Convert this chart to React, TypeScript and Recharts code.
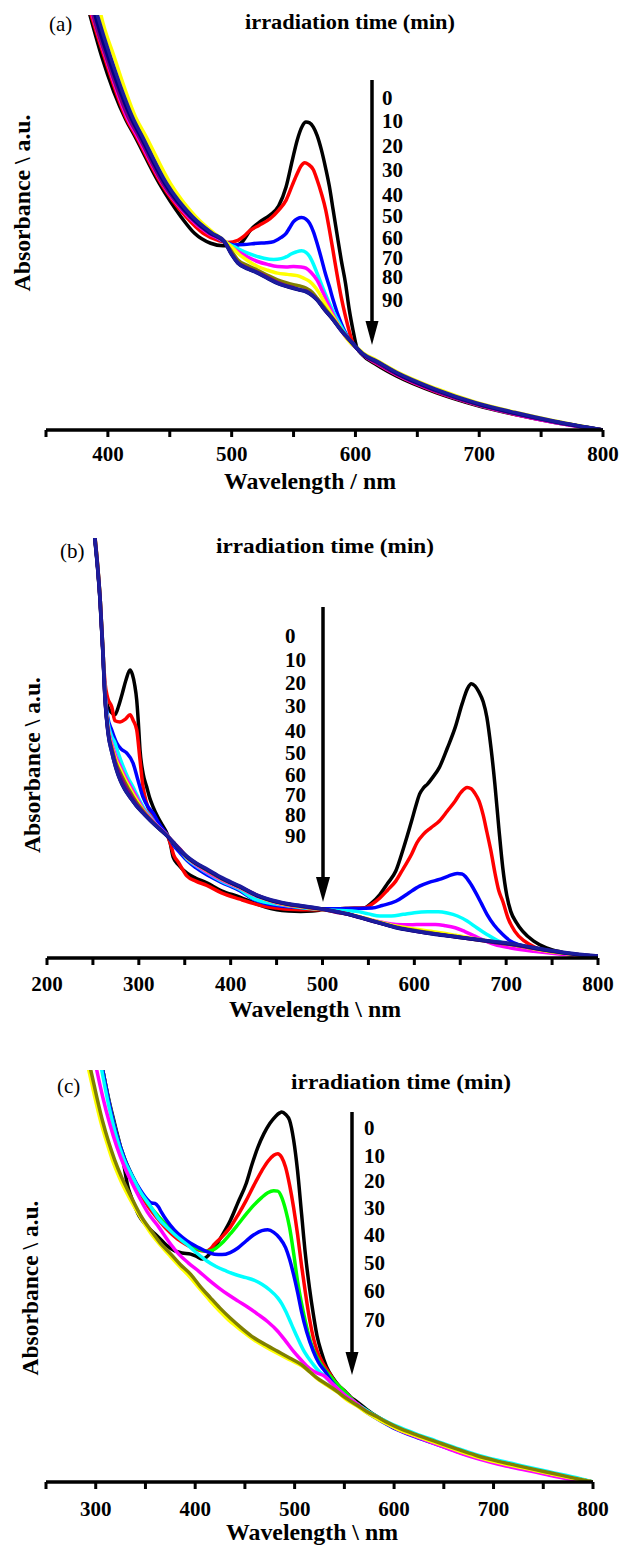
import React from 'react';
import { LineChart, Line, XAxis, YAxis } from 'recharts';

type Pt = [number, number];

const FONT = "'Liberation Serif', 'Times New Roman', serif";

// ---------- panel (a) ----------
const aTicks = [350, 400, 450, 500, 550, 600, 650, 700, 750, 800];
const aTimes = ['0', '10', '20', '30', '40', '50', '60', '70', '80', '90'];
const aColors = ['#000000', '#ff0000', '#0000ff', '#00ffff', '#ff00ff', '#ffff00', '#808000', '#800080', '#000080', '#1c1c9c'];

const a0: Pt[] = [[380, 1.06], [385.5, 1.0], [395, 0.9], [414.6, 0.747], [421, 0.712], [441.5, 0.594], [459, 0.514], [470, 0.474], [483, 0.45], [493, 0.444], [502, 0.444], [509, 0.455], [515, 0.481], [522, 0.5], [531, 0.518], [538, 0.54], [544, 0.586], [549, 0.65], [553, 0.699], [557, 0.732], [560, 0.742], [563, 0.74], [566, 0.73], [569, 0.71], [572.5, 0.675], [576, 0.63], [579, 0.586], [582, 0.53], [585, 0.474], [588.5, 0.41], [592, 0.353], [595, 0.29], [598, 0.241], [601, 0.2], [606, 0.18], [617, 0.157], [633, 0.13], [665, 0.09], [697, 0.06], [729, 0.037], [761, 0.018], [800, 0]];
const a1: Pt[] = [[380, 1.07], [386.5, 1.0], [397, 0.9], [415.5, 0.747], [422, 0.712], [443, 0.594], [463, 0.514], [477, 0.474], [490, 0.456], [497, 0.452], [505, 0.457], [510, 0.467], [515, 0.481], [522, 0.493], [531, 0.509], [538, 0.53], [544, 0.554], [549, 0.59], [553, 0.618], [556, 0.636], [559, 0.644], [562, 0.64], [566, 0.627], [569, 0.603], [572.5, 0.57], [576, 0.53], [579, 0.482], [582, 0.43], [585, 0.377], [588.5, 0.32], [592, 0.273], [595, 0.238], [598, 0.209], [601, 0.198], [606, 0.182], [617, 0.16], [633, 0.133], [665, 0.092], [697, 0.062], [729, 0.038], [761, 0.019], [800, 0]];
const a2: Pt[] = [[383, 1.08], [389, 1.0], [399.5, 0.9], [419, 0.747], [425, 0.712], [445.5, 0.594], [466.5, 0.514], [482.5, 0.474], [494, 0.454], [502, 0.446], [510, 0.447], [521, 0.45], [528, 0.451], [534, 0.454], [540, 0.464], [544, 0.474], [547, 0.488], [550, 0.502], [553, 0.509], [556.5, 0.512], [560, 0.508], [563, 0.498], [566, 0.478], [569, 0.45], [572.5, 0.413], [575.7, 0.377], [579, 0.345], [582, 0.313], [585, 0.285], [588.5, 0.257], [592, 0.234], [595, 0.218], [598, 0.209], [601, 0.198], [606, 0.182], [617, 0.162], [633, 0.135], [665, 0.094], [697, 0.063], [729, 0.039], [761, 0.019], [800, 0]];
const a3: Pt[] = [[384, 1.08], [390, 1.0], [400.5, 0.9], [420, 0.747], [426, 0.712], [446.5, 0.594], [467.5, 0.514], [483.5, 0.474], [494, 0.454], [502, 0.442], [510, 0.43], [518, 0.421], [526, 0.414], [534, 0.411], [540, 0.413], [544, 0.417], [548, 0.424], [552, 0.429], [556.5, 0.432], [560, 0.428], [563, 0.418], [566, 0.4], [569, 0.378], [574, 0.34], [579, 0.305], [584, 0.274], [588.5, 0.249], [593, 0.226], [598, 0.205], [601, 0.197], [606, 0.183], [617, 0.164], [633, 0.137], [665, 0.096], [697, 0.064], [729, 0.04], [761, 0.02], [800, 0]];
const a4: Pt[] = [[381, 1.07], [387.5, 1.0], [398, 0.9], [416.5, 0.747], [423, 0.712], [444, 0.594], [465, 0.514], [481, 0.474], [494, 0.454], [500, 0.44], [505, 0.43], [513, 0.417], [521, 0.406], [529, 0.399], [537, 0.394], [544, 0.393], [550, 0.394], [556, 0.393], [560, 0.39], [564, 0.38], [569, 0.361], [574, 0.33], [579, 0.297], [584, 0.266], [588.5, 0.241], [593, 0.221], [598, 0.205], [601, 0.197], [606, 0.182], [617, 0.161], [633, 0.134], [665, 0.093], [697, 0.062], [729, 0.038], [761, 0.018], [800, 0]];
const a5: Pt[] = [[388, 1.1], [394.4, 1.0], [405, 0.9], [423.5, 0.747], [430, 0.712], [450.5, 0.594], [471, 0.514], [486, 0.474], [494, 0.456], [500, 0.441], [505, 0.426], [513, 0.408], [521, 0.394], [529, 0.385], [537, 0.378], [545, 0.375], [553, 0.372], [558, 0.366], [563, 0.358], [568, 0.342], [572.5, 0.321], [577, 0.297], [582, 0.273], [587, 0.249], [592, 0.225], [597, 0.207], [601, 0.199], [606, 0.186], [617, 0.168], [633, 0.141], [665, 0.1], [697, 0.067], [729, 0.043], [761, 0.022], [800, 0]];
const a6: Pt[] = [[385, 1.08], [391, 1.0], [401.5, 0.9], [420.5, 0.747], [427, 0.712], [447, 0.594], [468, 0.514], [484, 0.474], [494, 0.454], [500, 0.43], [505, 0.41], [513, 0.396], [521, 0.385], [529, 0.373], [537, 0.362], [544, 0.355], [550, 0.35], [555, 0.347], [560, 0.342], [565, 0.332], [569, 0.318], [575, 0.295], [582, 0.268], [588, 0.243], [595, 0.218], [601, 0.198], [606, 0.183], [617, 0.163], [633, 0.136], [665, 0.095], [697, 0.063], [729, 0.04], [761, 0.02], [800, 0]];
const a7: Pt[] = [[382, 1.08], [388, 1.0], [398.5, 0.9], [417.5, 0.747], [424, 0.712], [444.5, 0.594], [466, 0.514], [482, 0.474], [494, 0.454], [500, 0.425], [505, 0.404], [513, 0.39], [521, 0.38], [529, 0.368], [537, 0.356], [544, 0.348], [550, 0.343], [555, 0.338], [560, 0.335], [565, 0.325], [569, 0.314], [575, 0.29], [582, 0.266], [588, 0.242], [595, 0.218], [601, 0.197], [606, 0.182], [617, 0.162], [633, 0.135], [665, 0.094], [697, 0.063], [729, 0.039], [761, 0.019], [800, 0]];
const a8: Pt[] = [[383, 1.08], [389.6, 1.0], [400, 0.9], [419.5, 0.747], [425.6, 0.712], [446, 0.594], [467, 0.514], [483, 0.474], [494, 0.454], [500, 0.422], [505, 0.402], [513, 0.388], [521, 0.378], [529, 0.365], [537, 0.353], [544, 0.346], [550, 0.341], [555, 0.337], [560, 0.333], [565, 0.324], [569, 0.313], [575, 0.29], [582, 0.265], [588, 0.241], [595, 0.217], [601, 0.197], [606, 0.182], [617, 0.165], [633, 0.137], [665, 0.096], [697, 0.064], [729, 0.04], [761, 0.02], [800, 0]];
const a9: Pt[] = [[384, 1.08], [391.5, 1.0], [402, 0.9], [421, 0.747], [427, 0.712], [447.5, 0.594], [468.5, 0.514], [484.5, 0.474], [494, 0.455], [500, 0.424], [505, 0.403], [513, 0.389], [521, 0.379], [529, 0.366], [537, 0.354], [544, 0.347], [550, 0.342], [555, 0.338], [560, 0.334], [565, 0.325], [569, 0.314], [575, 0.291], [582, 0.266], [588, 0.242], [595, 0.218], [601, 0.198], [606, 0.184], [617, 0.166], [633, 0.139], [665, 0.098], [697, 0.066], [729, 0.042], [761, 0.021], [800, 0]];
const aSeries = [a0, a1, a2, a3, a4, a5, a6, a7, a8, a9];

// ---------- panel (b) ----------
const bTicks = [200, 250, 300, 350, 400, 450, 500, 550, 600, 650, 700, 750, 800];
const bTimes = ['0', '10', '20', '30', '40', '50', '60', '70', '80', '90'];
const bColors = ['#000000', '#ff0000', '#0000ff', '#00ffff', '#ff00ff', '#ffff00', '#808000', '#800080', '#000080', '#1c1c9c'];

const b0: Pt[] = [[250, 1.05], [252, 1.0], [255, 0.93], [257.7, 0.852], [260.5, 0.74], [263, 0.64], [266, 0.6], [270, 0.585], [274, 0.579], [278, 0.6], [282, 0.63], [286, 0.662], [290.4, 0.686], [293, 0.675], [295.5, 0.65], [297.7, 0.614], [299.5, 0.56], [301.3, 0.495], [304.6, 0.44], [308.6, 0.407], [312, 0.38], [315.5, 0.36], [320.8, 0.335], [326, 0.315], [330.4, 0.298], [334, 0.275], [337.4, 0.24], [343, 0.222], [352.5, 0.202], [362, 0.19], [374, 0.179], [390, 0.16], [410, 0.145], [424.4, 0.132], [437, 0.122], [450.3, 0.115], [463, 0.112], [476.2, 0.111], [489, 0.112], [502.1, 0.115], [515, 0.117], [528, 0.118], [545.3, 0.119], [553, 0.13], [562.5, 0.151], [571, 0.178], [579.8, 0.207], [588, 0.26], [597, 0.326], [602, 0.365], [605.7, 0.39], [610, 0.405], [614.3, 0.414], [620, 0.43], [627.3, 0.454], [636, 0.5], [644.5, 0.549], [652, 0.605], [658, 0.642], [662, 0.653], [666, 0.648], [670.4, 0.633], [675, 0.61], [679, 0.573], [683.5, 0.5], [687.7, 0.414], [692, 0.31], [696.3, 0.215], [700.6, 0.15], [705, 0.111], [711, 0.085], [717.9, 0.064], [730, 0.04], [743.8, 0.024], [760, 0.014], [774, 0.008], [800, 0.004]];
const b1: Pt[] = [[250, 1.05], [252.2, 1.0], [255.2, 0.93], [257.9, 0.852], [260.7, 0.74], [263, 0.66], [266, 0.62], [270.5, 0.598], [274, 0.565], [279.5, 0.562], [285, 0.568], [290.4, 0.579], [294, 0.565], [297.7, 0.543], [301.3, 0.471], [304.6, 0.407], [308, 0.372], [312.2, 0.345], [318, 0.32], [325, 0.305], [330.4, 0.295], [334, 0.275], [338, 0.245], [343, 0.228], [352.5, 0.195], [362, 0.183], [374, 0.173], [390, 0.155], [410, 0.14], [424.4, 0.13], [437, 0.123], [450.3, 0.119], [463, 0.116], [476.2, 0.115], [489, 0.115], [502.1, 0.115], [515, 0.117], [528, 0.118], [545.3, 0.119], [553, 0.127], [562.5, 0.143], [571, 0.162], [579.8, 0.183], [588, 0.213], [597, 0.247], [603, 0.275], [610, 0.295], [618, 0.31], [627.3, 0.326], [636, 0.35], [644.5, 0.374], [651, 0.395], [657.5, 0.406], [662, 0.403], [666, 0.392], [670.4, 0.374], [675, 0.34], [679, 0.3], [683.4, 0.255], [688, 0.2], [692, 0.16], [696.3, 0.135], [702, 0.095], [709.3, 0.064], [720, 0.04], [730.9, 0.026], [750, 0.014], [774, 0.007], [800, 0.004]];
const b2: Pt[] = [[250, 1.05], [252.3, 1.0], [255.3, 0.93], [258, 0.852], [260.8, 0.74], [263.3, 0.63], [266, 0.575], [270.5, 0.543], [275.9, 0.512], [281, 0.497], [286.8, 0.488], [293.7, 0.464], [299, 0.424], [304.6, 0.383], [310, 0.36], [315.5, 0.345], [322, 0.32], [331.8, 0.29], [338, 0.268], [345, 0.25], [352.5, 0.232], [362, 0.215], [374, 0.198], [390, 0.18], [410, 0.16], [424.4, 0.14], [437, 0.13], [450.3, 0.125], [463, 0.122], [476.2, 0.12], [489, 0.118], [502.1, 0.117], [515, 0.117], [528, 0.118], [540, 0.118], [553.9, 0.119], [565, 0.125], [579.8, 0.135], [592, 0.152], [605.7, 0.171], [616, 0.18], [627.3, 0.187], [637, 0.195], [646.7, 0.201], [652, 0.2], [656, 0.193], [661.8, 0.175], [667, 0.155], [673, 0.13], [679.1, 0.104], [687, 0.078], [696.3, 0.056], [705, 0.04], [713.6, 0.032], [728, 0.022], [743.8, 0.016], [770, 0.008], [800, 0.004]];
const b3: Pt[] = [[250, 1.05], [252.3, 1.0], [255.3, 0.93], [258, 0.852], [260.8, 0.74], [263.3, 0.625], [266.5, 0.56], [270, 0.53], [274, 0.512], [278, 0.485], [283.1, 0.455], [288, 0.43], [293.7, 0.407], [299, 0.383], [304.6, 0.36], [312, 0.338], [320, 0.315], [331.8, 0.29], [338, 0.272], [345, 0.255], [352.5, 0.236], [362, 0.22], [374, 0.203], [390, 0.183], [410, 0.163], [424.4, 0.142], [437, 0.133], [450.3, 0.128], [463, 0.124], [476.2, 0.12], [489, 0.117], [502.1, 0.115], [520, 0.113], [537, 0.111], [550, 0.105], [562.5, 0.1], [575, 0.1], [588, 0.104], [600, 0.108], [614.3, 0.11], [626, 0.11], [636, 0.107], [647, 0.1], [657.5, 0.088], [668, 0.072], [679.1, 0.056], [690, 0.042], [700.6, 0.032], [720, 0.022], [743.8, 0.014], [770, 0.008], [800, 0.004]];
const b4: Pt[] = [[250, 1.05], [252.4, 1.0], [255.4, 0.93], [258, 0.852], [260.8, 0.74], [263.3, 0.62], [266.4, 0.55], [270.5, 0.51], [275, 0.48], [280, 0.455], [285, 0.432], [290.4, 0.41], [297, 0.385], [304.6, 0.355], [312, 0.335], [320, 0.315], [331.8, 0.29], [338, 0.273], [345, 0.256], [352.5, 0.238], [362, 0.222], [374, 0.205], [390, 0.186], [410, 0.166], [428, 0.148], [439, 0.139], [450, 0.131], [463, 0.125], [476, 0.122], [489, 0.118], [502, 0.115], [515, 0.11], [528, 0.104], [541, 0.097], [554, 0.09], [567, 0.084], [580, 0.08], [595, 0.079], [610, 0.08], [623, 0.08], [634, 0.077], [644.5, 0.072], [655, 0.063], [666, 0.052], [677, 0.041], [687.7, 0.032], [705, 0.024], [730, 0.016], [760, 0.009], [800, 0.004]];
const b5: Pt[] = [[250, 1.05], [252.4, 1.0], [255.4, 0.93], [258, 0.852], [260.8, 0.74], [263.3, 0.618], [266.4, 0.545], [270.5, 0.503], [275, 0.472], [280, 0.448], [285, 0.425], [290.4, 0.403], [297, 0.378], [304.6, 0.352], [312, 0.332], [320, 0.313], [331.8, 0.289], [338, 0.273], [345, 0.257], [352.5, 0.239], [362, 0.224], [374, 0.208], [390, 0.188], [410, 0.168], [428.7, 0.148], [439, 0.139], [450.3, 0.132], [463, 0.126], [476.2, 0.122], [489, 0.118], [502.1, 0.115], [515, 0.11], [528, 0.105], [541, 0.098], [554, 0.09], [567, 0.083], [580, 0.076], [600, 0.069], [623, 0.062], [645, 0.054], [666, 0.046], [688, 0.038], [709, 0.03], [730, 0.022], [752, 0.014], [775, 0.008], [800, 0.004]];
const b6: Pt[] = [[250, 1.05], [252.3, 1.0], [255.3, 0.93], [258, 0.852], [260.7, 0.74], [263.3, 0.617], [266.4, 0.542], [270.8, 0.498], [275, 0.465], [280, 0.44], [285, 0.418], [290.4, 0.396], [297, 0.372], [304.6, 0.35], [312, 0.331], [320, 0.313], [331.8, 0.289], [338, 0.274], [345, 0.258], [352.5, 0.24], [362, 0.225], [374, 0.209], [390, 0.189], [410, 0.169], [428.7, 0.149], [439, 0.14], [450.3, 0.133], [463, 0.127], [476.2, 0.123], [489, 0.119], [502.1, 0.115], [515, 0.11], [528, 0.104], [541, 0.097], [554, 0.089], [567, 0.081], [580, 0.074], [600, 0.066], [623, 0.058], [645, 0.051], [666, 0.044], [688, 0.037], [709, 0.031], [730, 0.023], [752, 0.015], [775, 0.009], [800, 0.004]];
const b7: Pt[] = [[250, 1.05], [252.2, 1.0], [255.2, 0.93], [257.9, 0.852], [260.6, 0.74], [263.2, 0.616], [266.4, 0.54], [270.8, 0.494], [275, 0.46], [280, 0.433], [285, 0.41], [290.4, 0.39], [297, 0.368], [304.6, 0.347], [312, 0.33], [320, 0.313], [331.8, 0.289], [338, 0.275], [345, 0.259], [352.5, 0.241], [362, 0.226], [374, 0.21], [390, 0.19], [410, 0.17], [428.7, 0.15], [439, 0.141], [450.3, 0.134], [463, 0.128], [476.2, 0.123], [489, 0.119], [502.1, 0.115], [515, 0.109], [528, 0.104], [541, 0.096], [554, 0.088], [567, 0.08], [580, 0.073], [600, 0.064], [623, 0.057], [645, 0.05], [666, 0.044], [688, 0.037], [709, 0.031], [730, 0.023], [752, 0.016], [775, 0.009], [800, 0.004]];
const b8: Pt[] = [[250, 1.05], [252, 1.0], [255, 0.93], [257.7, 0.852], [260.5, 0.74], [263.2, 0.614], [266.4, 0.536], [270.8, 0.488], [275, 0.452], [279.5, 0.424], [285, 0.4], [290.4, 0.383], [297, 0.363], [304.6, 0.345], [312, 0.328], [319.8, 0.312], [326, 0.3], [331.8, 0.288], [337, 0.275], [342, 0.262], [352.5, 0.24], [362, 0.225], [374.3, 0.21], [390, 0.19], [410.2, 0.169], [428.7, 0.148], [439, 0.14], [450.3, 0.133], [463, 0.128], [476.2, 0.124], [489, 0.12], [502.1, 0.116], [515, 0.11], [528, 0.104], [541, 0.096], [553.9, 0.088], [567, 0.08], [579.8, 0.072], [600, 0.064], [623, 0.056], [645, 0.05], [666.1, 0.044], [688, 0.038], [709.3, 0.032], [730, 0.024], [752.4, 0.016], [775, 0.009], [800, 0.004]];
const b9: Pt[] = [[250, 1.05], [252.1, 1.0], [255.1, 0.93], [257.8, 0.852], [260.6, 0.74], [263.3, 0.614], [266.5, 0.535], [271, 0.486], [275.5, 0.45], [280, 0.422], [285.5, 0.399], [291, 0.381], [297.5, 0.362], [305, 0.344], [312.5, 0.328], [320, 0.312], [326, 0.301], [331.8, 0.289], [337, 0.277], [342, 0.264], [352.5, 0.242], [362, 0.227], [374.3, 0.212], [390, 0.192], [410.2, 0.171], [428.7, 0.15], [439, 0.142], [450.3, 0.135], [463, 0.129], [476.2, 0.125], [489, 0.121], [502.1, 0.116], [515, 0.111], [528, 0.105], [541, 0.097], [553.9, 0.089], [567, 0.081], [579.8, 0.073], [600, 0.065], [623, 0.057], [645, 0.051], [666.1, 0.045], [688, 0.039], [709.3, 0.033], [730, 0.025], [752.4, 0.017], [775, 0.01], [800, 0.005]];
const bSeries = [b0, b1, b2, b3, b4, b5, b6, b7, b8, b9];

// ---------- panel (c) ----------
const cTicks = [250, 300, 350, 400, 450, 500, 550, 600, 650, 700, 750, 800];
const cTimes = ['0', '10', '20', '30', '40', '50', '60', '70'];
const cColors = ['#000000', '#ff0000', '#00ff00', '#0000ff', '#00ffff', '#ff00ff', '#ffff00', '#808000'];

const c0: Pt[] = [[303, 1.05], [307, 1.0], [313, 0.93], [320, 0.86], [326, 0.8], [329, 0.76], [332, 0.72], [336, 0.69], [340, 0.665], [343.8, 0.645], [350, 0.625], [356, 0.61], [363.6, 0.593], [371, 0.575], [379.6, 0.561], [387, 0.556], [395.5, 0.553], [401, 0.548], [407.4, 0.541], [411, 0.545], [415, 0.555], [419.3, 0.569], [427, 0.598], [435.2, 0.634], [443, 0.678], [451.2, 0.724], [457, 0.77], [463.1, 0.813], [469, 0.845], [475, 0.87], [481, 0.888], [485, 0.896], [487, 0.898], [491, 0.892], [494.9, 0.878], [499, 0.83], [502.9, 0.756], [507, 0.65], [510.8, 0.553], [515, 0.47], [518.8, 0.407], [522.5, 0.355], [526.7, 0.317], [532, 0.28], [538.7, 0.252], [544, 0.235], [550.6, 0.22], [556, 0.207], [562.5, 0.195], [572, 0.177], [582, 0.16], [592, 0.146], [602, 0.134], [622, 0.114], [642, 0.096], [662, 0.079], [682, 0.063], [702, 0.051], [722, 0.04], [742, 0.029], [761, 0.019], [780, 0.01], [800, 0]];
const c1: Pt[] = [[303, 1.05], [307, 1.0], [314, 0.915], [321, 0.845], [329, 0.785], [337, 0.74], [345, 0.7], [353, 0.668], [362, 0.64], [372, 0.612], [382, 0.59], [392, 0.575], [401, 0.565], [411, 0.56], [415, 0.565], [419.3, 0.577], [427, 0.595], [435.2, 0.618], [443, 0.648], [451.2, 0.683], [459, 0.72], [467.1, 0.756], [473, 0.778], [479, 0.793], [483, 0.797], [487, 0.788], [490.9, 0.764], [495, 0.72], [498.9, 0.667], [503, 0.6], [506.8, 0.528], [510.8, 0.46], [514.8, 0.398], [518.8, 0.35], [522.8, 0.317], [528, 0.29], [534.7, 0.265], [540, 0.245], [546.6, 0.228], [554, 0.21], [562.5, 0.19], [572, 0.173], [582, 0.158], [592, 0.144], [602, 0.132], [622, 0.112], [642, 0.094], [662, 0.077], [682, 0.061], [702, 0.049], [722, 0.038], [742, 0.027], [761, 0.018], [780, 0.009], [800, 0]];
const c2: Pt[] = [[303, 1.05], [307, 1.0], [314, 0.915], [321, 0.845], [329, 0.785], [337, 0.742], [345, 0.705], [353, 0.675], [362, 0.648], [372, 0.622], [382, 0.6], [392, 0.582], [401, 0.568], [411, 0.56], [415, 0.561], [419.3, 0.565], [427, 0.58], [435.2, 0.602], [443, 0.625], [451.2, 0.65], [459, 0.672], [467.1, 0.691], [473, 0.702], [479, 0.707], [483, 0.706], [487, 0.691], [491, 0.66], [494.9, 0.618], [499, 0.555], [502.9, 0.488], [506.8, 0.435], [510.8, 0.39], [516, 0.34], [522.8, 0.301], [528, 0.28], [534.7, 0.26], [540, 0.245], [546.6, 0.228], [554, 0.21], [562.5, 0.19], [572, 0.174], [582, 0.158], [592, 0.145], [602, 0.132], [622, 0.113], [642, 0.095], [662, 0.078], [682, 0.062], [702, 0.05], [722, 0.039], [742, 0.028], [761, 0.019], [780, 0.01], [800, 0]];
const c3: Pt[] = [[303, 1.05], [307, 1.0], [314, 0.915], [321, 0.845], [329, 0.785], [337, 0.742], [345, 0.708], [352, 0.685], [356, 0.677], [359.7, 0.676], [363, 0.668], [366, 0.655], [371.6, 0.634], [379, 0.612], [387.5, 0.593], [395, 0.58], [403.4, 0.569], [411, 0.56], [419.3, 0.553], [427, 0.552], [435.2, 0.557], [443, 0.568], [451.2, 0.585], [459, 0.6], [467.1, 0.61], [473, 0.612], [479, 0.606], [485, 0.592], [490.9, 0.569], [495, 0.54], [498.9, 0.504], [503, 0.46], [506.8, 0.415], [512, 0.365], [518.8, 0.317], [524, 0.29], [530.7, 0.268], [536, 0.248], [542.6, 0.228], [552, 0.206], [562.5, 0.187], [572, 0.17], [582, 0.155], [592, 0.141], [602, 0.128], [622, 0.109], [642, 0.092], [662, 0.075], [682, 0.06], [702, 0.048], [722, 0.038], [742, 0.027], [761, 0.018], [780, 0.009], [800, 0]];
const c4: Pt[] = [[302, 1.05], [306, 1.0], [313, 0.915], [320, 0.845], [328, 0.785], [336, 0.745], [344, 0.708], [355.7, 0.667], [363, 0.64], [371.6, 0.618], [381, 0.597], [391.5, 0.577], [401, 0.557], [411.4, 0.537], [421, 0.523], [431.3, 0.512], [441, 0.503], [451.2, 0.496], [459, 0.49], [467.1, 0.48], [475, 0.466], [483, 0.447], [487, 0.433], [490.9, 0.415], [497, 0.382], [502.9, 0.35], [510, 0.315], [518.8, 0.285], [524, 0.27], [530.7, 0.256], [536, 0.243], [542.6, 0.228], [552, 0.208], [562.5, 0.19], [572, 0.174], [582, 0.16], [592, 0.147], [602, 0.136], [622, 0.117], [642, 0.1], [662, 0.083], [682, 0.067], [702, 0.054], [722, 0.043], [742, 0.032], [761, 0.022], [780, 0.012], [800, 0]];
const c5: Pt[] = [[297, 1.05], [301, 1.0], [307, 0.935], [314, 0.87], [321, 0.815], [328, 0.77], [336, 0.728], [344, 0.69], [352, 0.655], [363.6, 0.618], [373, 0.585], [383.5, 0.553], [393, 0.532], [403.4, 0.512], [413, 0.492], [423.3, 0.472], [433, 0.455], [443.2, 0.439], [453, 0.424], [463.1, 0.407], [473, 0.389], [483, 0.366], [491, 0.342], [498.9, 0.317], [507, 0.295], [514.8, 0.276], [522, 0.265], [530.7, 0.256], [536, 0.243], [542.6, 0.228], [552, 0.208], [562.5, 0.19], [572, 0.172], [582, 0.157], [592, 0.143], [602, 0.13], [622, 0.11], [642, 0.092], [662, 0.074], [682, 0.058], [702, 0.045], [722, 0.034], [742, 0.024], [761, 0.014], [785, 0.004], [800, 0]];
const c6: Pt[] = [[288, 1.05], [293, 1.0], [299, 0.935], [305, 0.875], [311, 0.825], [317, 0.78], [324, 0.738], [332, 0.698], [342, 0.655], [355, 0.605], [365, 0.575], [375, 0.548], [385, 0.522], [395, 0.497], [405, 0.468], [415, 0.44], [425, 0.414], [435, 0.39], [447, 0.367], [459, 0.345], [471, 0.328], [483, 0.312], [495, 0.297], [507, 0.282], [515, 0.268], [523, 0.25], [533, 0.234], [543, 0.218], [552, 0.2], [562.5, 0.185], [572, 0.169], [582, 0.155], [592, 0.142], [602, 0.13], [622, 0.112], [642, 0.095], [662, 0.078], [682, 0.062], [702, 0.049], [722, 0.038], [742, 0.028], [761, 0.018], [780, 0.009], [800, 0]];
const c7: Pt[] = [[290, 1.05], [295, 1.0], [301, 0.935], [307, 0.875], [313, 0.825], [319, 0.782], [326, 0.74], [335.8, 0.691], [345, 0.648], [355.7, 0.61], [365, 0.58], [375.6, 0.553], [385, 0.528], [395.5, 0.504], [405, 0.475], [415.4, 0.447], [425, 0.422], [435.2, 0.398], [447, 0.373], [459.1, 0.35], [471, 0.333], [483, 0.317], [495, 0.301], [506.8, 0.285], [515, 0.268], [522.8, 0.252], [533, 0.236], [542.6, 0.22], [552, 0.203], [562.5, 0.187], [572, 0.172], [582.4, 0.159], [592, 0.146], [602.3, 0.134], [622, 0.115], [642, 0.098], [662, 0.081], [681.9, 0.065], [702, 0.052], [721.6, 0.041], [742, 0.03], [761.4, 0.02], [780, 0.01], [800, 0]];
const cSeries = [c0, c1, c2, c3, c4, c5, c6, c7];

const rows = (pts: Pt[]) => pts.map(([x, y]) => ({ x, y }));

type PanelProps = {
  top: number;
  height: number;
  margin: { top: number; right: number; left: number; bottom: number };
  axisHeight: number;
  tickGap: number;
  domain: [number, number];
  ticks: number[];
  series: Pt[][];
  colors: string[];
};

const Panel: React.FC<PanelProps> = ({ top, height, margin, axisHeight, tickGap, domain, ticks, series, colors }) => (
  <div style={{ position: 'absolute', left: 0, top }}>
    <LineChart width={621} height={height} margin={margin}>
      <XAxis
        type="number"
        dataKey="x"
        domain={domain}
        ticks={ticks}
        interval={0}
        allowDataOverflow
        height={axisHeight}
        tickSize={7}
        tickMargin={tickGap}
        tickFormatter={(v: number) => (v % 100 === 0 ? String(v) : '')}
        axisLine={{ stroke: '#000', strokeWidth: 3.5 }}
        tickLine={{ stroke: '#000', strokeWidth: 3 }}
        tick={{ fill: '#000', fontSize: 21, fontWeight: 700, fontFamily: FONT }}
      />
      <YAxis
        type="number"
        domain={[0, 1]}
        allowDataOverflow
        width={0}
        tick={false}
        tickLine={false}
        axisLine={{ stroke: '#000', strokeWidth: 3.5 }}
      />
      {series.map((s, i) => (
        <Line
          key={i}
          name={`s${i}`}
          data={rows(s)}
          dataKey="y"
          type="monotone"
          stroke={colors[i]}
          strokeWidth={3.5}
          dot={false}
          activeDot={false}
          isAnimationActive={false}
        />
      ))}
    </LineChart>
  </div>
);

const Arrow = ({ x, y1, y2, head, half }: { x: number; y1: number; y2: number; head: number; half: number }) => (
  <g>
    <line x1={x} y1={y1} x2={x} y2={y2 - head + 2} stroke="#000" strokeWidth={3.5} />
    <polygon points={`${x - half},${y2 - head} ${x + half},${y2 - head} ${x},${y2}`} fill="#000" />
  </g>
);

const Times = ({ x, labels, baselines }: { x: number; labels: string[]; baselines: number[] }) => (
  <g>
    {labels.map((t, i) => (
      <text key={t} x={x} y={baselines[i]} fontSize={21} fontWeight={700} fontFamily={FONT} fill="#000">
        {t}
      </text>
    ))}
  </g>
);

const bold = { fontFamily: FONT, fontWeight: 700, fill: '#000' } as const;

export default function App() {
  return (
    <div style={{ position: 'absolute', left: 0, top: 0, width: 621, height: 1547, background: '#fff', overflow: 'hidden' }}>
      <Panel top={0} height={500} margin={{ top: 15, right: 18, left: 46, bottom: 0 }} axisHeight={70} tickGap={9} domain={[350, 800]} ticks={aTicks} series={aSeries} colors={aColors} />
      <Panel top={500} height={520} margin={{ top: 38, right: 23, left: 47, bottom: 0 }} axisHeight={62} tickGap={11} domain={[200, 800]} ticks={bTicks} series={bSeries} colors={bColors} />
      <Panel top={1020} height={527} margin={{ top: 50, right: 28, left: 46, bottom: 0 }} axisHeight={65} tickGap={12} domain={[250, 800]} ticks={cTicks} series={cSeries} colors={cColors} />

      <svg width={621} height={1547} style={{ position: 'absolute', left: 0, top: 0, pointerEvents: 'none' }}>
        {/* panel (a) */}
        <text x={49} y={31} fontSize={21} fontFamily={FONT} fill="#000">(a)</text>
        <text x={245} y={29} fontSize={20} textLength={210} lengthAdjust="spacingAndGlyphs" {...bold}>irradiation time (min)</text>
        <Times x={382} labels={aTimes} baselines={[105, 128, 153, 177, 202, 223, 245, 265, 284, 307]} />
        <Arrow x={372} y1={80} y2={345} head={24} half={6.5} />
        <text x={224} y={489} fontSize={23} textLength={172} lengthAdjust="spacingAndGlyphs" {...bold}>Wavelength / nm</text>
        <text transform="translate(30,203) rotate(-90)" textAnchor="middle" fontSize={23} textLength={177} lengthAdjust="spacingAndGlyphs" {...bold}>{'Absorbance \\ a.u.'}</text>

        {/* panel (b) */}
        <text x={60} y={558} fontSize={21} fontFamily={FONT} fill="#000">(b)</text>
        <text x={216} y={553} fontSize={20} textLength={218} lengthAdjust="spacingAndGlyphs" {...bold}>irradiation time (min)</text>
        <Times x={285} labels={bTimes} baselines={[643, 667, 690, 713, 738, 760, 782, 802, 822, 843]} />
        <Arrow x={323} y1={607} y2={902} head={25} half={7} />
        <text x={229} y={1017} fontSize={23} textLength={172} lengthAdjust="spacingAndGlyphs" {...bold}>{'Wavelength \\ nm'}</text>
        <text transform="translate(40,765) rotate(-90)" textAnchor="middle" fontSize={23} textLength={176} lengthAdjust="spacingAndGlyphs" {...bold}>{'Absorbance \\ a.u.'}</text>

        {/* panel (c) */}
        <text x={57} y={1093} fontSize={21} fontFamily={FONT} fill="#000">(c)</text>
        <text x={291} y={1089} fontSize={20} textLength={220} lengthAdjust="spacingAndGlyphs" {...bold}>irradiation time (min)</text>
        <Times x={364} labels={cTimes} baselines={[1135, 1163, 1188, 1215, 1242, 1270, 1298, 1327]} />
        <Arrow x={352} y1={1112} y2={1375} head={23} half={6.5} />
        <text x={226} y={1540} fontSize={23} textLength={172} lengthAdjust="spacingAndGlyphs" {...bold}>{'Wavelength \\ nm'}</text>
        <text transform="translate(38,1288) rotate(-90)" textAnchor="middle" fontSize={23} textLength={175} lengthAdjust="spacingAndGlyphs" {...bold}>{'Absorbance \\ a.u.'}</text>
      </svg>
    </div>
  );
}
